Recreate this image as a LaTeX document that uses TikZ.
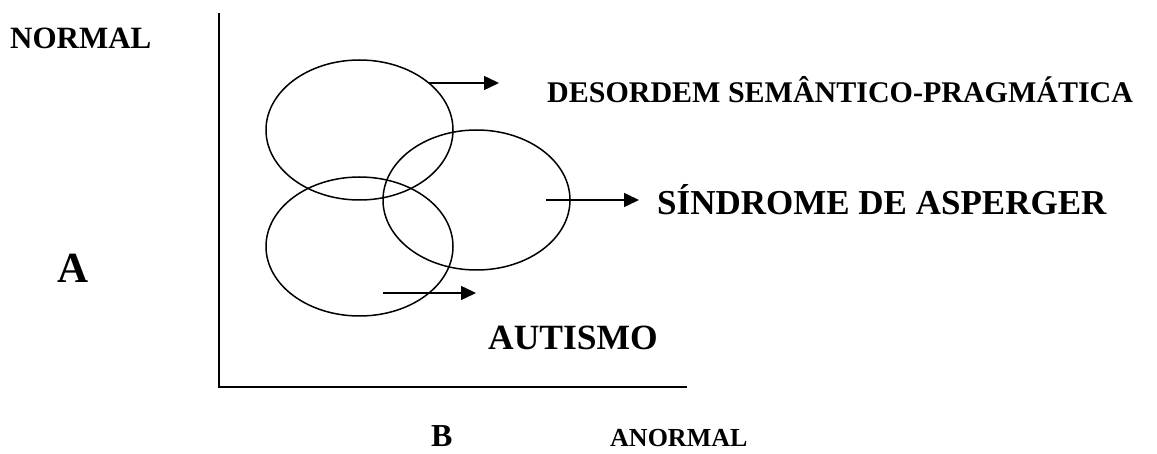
\documentclass[tikz,border=0pt]{standalone}
\usepackage{fontspec}
\setmainfont{Liberation Serif}
\usetikzlibrary{arrows.meta,shapes.geometric}
\begin{document}
\begin{tikzpicture}[x=1pt,y=-1pt,
  lbl/.style={font=\bfseries, inner sep=0pt, anchor=base west},
  oval/.style={draw, line width=1.5pt, ellipse, minimum width=187pt, inner sep=0pt},
  axisline/.style={line width=1.8pt},
  arr/.style={line width=1.5pt, -{Triangle[length=15pt,width=14pt]}}]
\useasboundingbox (0,0) rectangle (1157,454);
% axes
\coordinate (top) at (219,13);
\coordinate (orig) at (219,387);
\coordinate (xend) at (687,387);
\draw[axisline] (top) -- (orig) -- (xend);
% ellipses
\node[oval, minimum height=140pt] (e1) at (359.5,130) {};
\node[oval, minimum height=140pt] (e2) at (476.5,200) {};
\node[oval, minimum height=139pt] (e3) at (359.5,246.5) {};
% labels
\node[lbl, font=\fontsize{31}{31}\selectfont\bfseries] (normal) at (10,49) {NORMAL};
\node[lbl, font=\fontsize{30}{30}\selectfont\bfseries] (dsp) at (547,103) {DESORDEM SEMÂNTICO-PRAGMÁTICA};
\node[lbl, font=\fontsize{35}{35}\selectfont\bfseries] (as) at (657,215) {SÍNDROME DE ASPERGER};
\node[lbl, font=\fontsize{35.5}{35.5}\selectfont\bfseries] (aut) at (488,350) {AUTISMO};
\node[lbl, font=\fontsize{43}{43}\selectfont\bfseries] (la) at (57,283) {A};
\node[lbl, font=\fontsize{32}{32}\selectfont\bfseries] (lb) at (431,446) {B};
\node[lbl, font=\fontsize{26}{26}\selectfont\bfseries] (anormal) at (610,446) {ANORMAL};
% arrows
\coordinate (a1s) at (429,83);
\coordinate (a1e) at (499,83);
\coordinate (a2s) at (546,200);
\coordinate (a2e) at (639,200);
\coordinate (a3s) at (383,293);
\coordinate (a3e) at (476,293);
\draw[arr] (a1s) -- (a1e);
\draw[arr] (a2s) -- (a2e);
\draw[arr] (a3s) -- (a3e);
\end{tikzpicture}
\end{document}
